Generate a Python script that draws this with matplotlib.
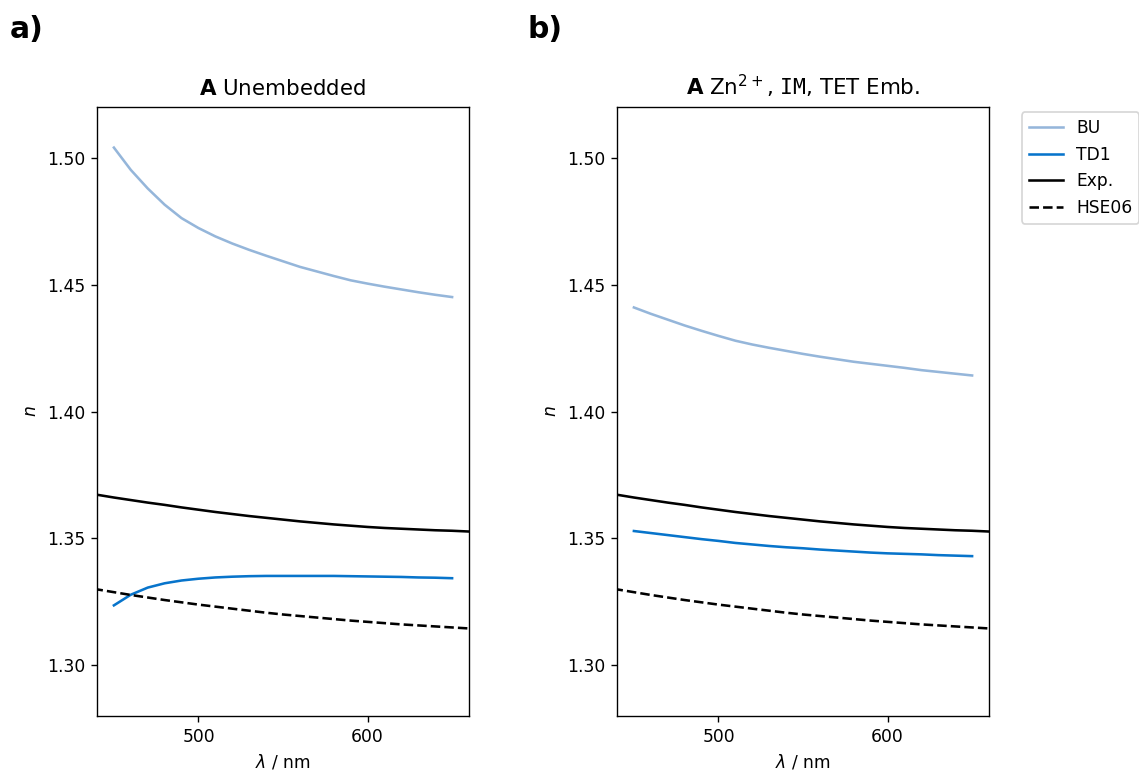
import numpy as np
import matplotlib.pyplot as plt

# wavelengths (nm)
wl_calc = [450, 460, 470, 480, 490, 500, 510, 520, 530, 540, 550,
           560, 570, 580, 590, 600, 610, 620, 630, 640, 650]
wl_ref = [430, 440, 450, 460, 470, 480, 490, 500, 510, 520, 530, 540, 550,
          560, 570, 580, 590, 600, 610, 620, 630, 640, 650, 660, 670]

# panel a) unembedded
bu_unemb = [1.5040, 1.4952, 1.4879, 1.4815, 1.4762, 1.4723, 1.4690, 1.4662,
            1.4637, 1.4614, 1.4592, 1.4570, 1.4552, 1.4534, 1.4517, 1.4504,
            1.4492, 1.4481, 1.4470, 1.4460, 1.4451]
td1_unemb = [1.3236, 1.3278, 1.3306, 1.3323, 1.3334, 1.3341, 1.3346, 1.3349,
             1.3351, 1.3352, 1.3352, 1.3352, 1.3352, 1.3352, 1.3351, 1.3350,
             1.3349, 1.3348, 1.3346, 1.3345, 1.3343]

# panel b) Zn2+, IM, TET embedding
bu_emb = [1.4410, 1.4385, 1.4362, 1.4339, 1.4318, 1.4298, 1.4279, 1.4264,
          1.4251, 1.4239, 1.4227, 1.4216, 1.4206, 1.4196, 1.4188, 1.4180,
          1.4172, 1.4163, 1.4156, 1.4149, 1.4142]
td1_emb = [1.3529, 1.3521, 1.3513, 1.3505, 1.3497, 1.3490, 1.3482, 1.3476,
           1.3470, 1.3465, 1.3461, 1.3456, 1.3452, 1.3448, 1.3444, 1.3441,
           1.3439, 1.3437, 1.3434, 1.3432, 1.3430]

# reference curves (same in both panels)
n_exp = [1.3684, 1.3672, 1.3661, 1.3651, 1.3641, 1.3632, 1.3622, 1.3613,
         1.3604, 1.3596, 1.3588, 1.3581, 1.3574, 1.3567, 1.3561, 1.3555,
         1.3550, 1.3545, 1.3541, 1.3538, 1.3535, 1.3532, 1.3530, 1.3527, 1.3525]
n_hse = [1.3310, 1.3299, 1.3288, 1.3277, 1.3267, 1.3257, 1.3248, 1.3239,
         1.3231, 1.3223, 1.3215, 1.3207, 1.3200, 1.3194, 1.3188, 1.3182,
         1.3176, 1.3171, 1.3166, 1.3161, 1.3157, 1.3153, 1.3149, 1.3145, 1.3141]

titles = [r"$\mathbf{A}$ Unembedded",
          r"$\mathbf{A}$ Zn$^{2+}$, $\mathtt{IM}$, TET Emb."]
panel_labels = ["a)", "b)"]

c_bu = "#95b6da"
c_td1 = "#0774cb"

dpi = 123
fig = plt.figure(figsize=(1139 / dpi, 771 / dpi), dpi=dpi)
ax1 = fig.add_axes([97 / 1139, 55 / 771, 372 / 1139, 609 / 771])
ax2 = fig.add_axes([617 / 1139, 55 / 771, 372 / 1139, 609 / 771])

for ax, bu, td1, title in [(ax1, bu_unemb, td1_unemb, titles[0]),
                           (ax2, bu_emb, td1_emb, titles[1])]:
    ax.plot(wl_calc, bu, color=c_bu, label="BU")
    ax.plot(wl_calc, td1, color=c_td1, label="TD1")
    ax.plot(wl_ref, n_exp, color="black", label="Exp.")
    ax.plot(wl_ref, n_hse, color="black", linestyle="--", label="HSE06")
    ax.set_xlim(440, 660)
    ax.set_ylim(1.28, 1.52)
    ax.set_xticks([500, 600])
    ax.set_yticks([1.30, 1.35, 1.40, 1.45, 1.50])
    ax.set_xlabel(r"$\lambda$ / nm")
    ax.set_ylabel(r"$n$")
    ax.set_title(title, fontsize=12.5, pad=7)

ax2.legend(loc="upper left", bbox_to_anchor=(1.065, 1.005))

fig.text(10 / 1139, 1 - 29 / 771, panel_labels[0], fontsize=17.5,
         fontweight="bold", va="center", ha="left")
fig.text(528 / 1139, 1 - 29 / 771, panel_labels[1], fontsize=17.5,
         fontweight="bold", va="center", ha="left")

fig.savefig("out.png", dpi=dpi)
